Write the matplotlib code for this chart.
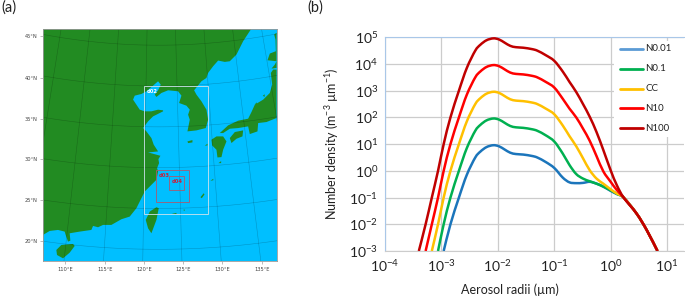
import matplotlib

matplotlib.use("Agg")
import matplotlib.pyplot as plt
import numpy as np
from matplotlib.patches import PathPatch, Polygon, Rectangle
from matplotlib.path import Path

W, H = 685, 298

plt.rcParams["font.family"] = ["Lato", "DejaVu Sans"]
plt.rcParams["mathtext.default"] = "regular"

# map panel, everything in projected map units
mainland = [(130, 705), (150, 693), (175, 690), (195, 695), (198, 705), (205, 725), (212, 722), (210, 700),
            (240, 695), (275, 690), (280, 678), (295, 682), (310, 675), (335, 675), (365, 658), (390, 650),
            (410, 625), (425, 595), (435, 575), (450, 560), (470, 540), (475, 515), (472, 505), (478, 490),
            (476, 478), (482, 468), (460, 462), (445, 458), (475, 455), (462, 435), (455, 415), (440, 395),
            (430, 385), (445, 365), (460, 350), (490, 335), (490, 332), (475, 330), (455, 335), (435, 335),
            (420, 330), (410, 315), (400, 300), (405, 288), (425, 283), (440, 275), (460, 258), (475, 245),
            (483, 255), (475, 272), (465, 285), (470, 292), (485, 280), (505, 272), (535, 275), (545, 288),
            (538, 310), (560, 318), (570, 330), (565, 345), (570, 360), (563, 395), (590, 392), (618, 385),
            (625, 360), (620, 330), (605, 305), (590, 285), (583, 272), (605, 245), (620, 235), (625, 220),
            (640, 200), (655, 183), (675, 187), (690, 185), (710, 165), (730, 125), (755, 87), (130, 87)]
hainan = [(170, 750), (185, 735), (220, 732), (225, 738), (210, 758), (190, 775), (172, 765)]
taiwan = [(438, 660), (450, 635), (470, 622), (477, 625), (470, 660), (455, 700), (445, 685)]
jeju = [(563, 425), (578, 421), (578, 428), (565, 430)]
kyushu = [(635, 420), (650, 410), (670, 410), (680, 425), (670, 450), (665, 472), (653, 473), (650, 450), (637, 437)]
shikoku = [(690, 415), (705, 397), (730, 392), (728, 410), (710, 417), (695, 430)]
honshu = [(660, 400), (685, 377), (715, 363), (745, 357), (755, 337), (765, 315), (790, 300), (810, 280),
          (817, 255), (813, 220), (820, 210), (830, 210), (830, 355), (800, 367), (775, 370), (773, 395),
          (750, 403), (745, 380), (715, 385), (690, 387), (670, 400)]
hokkaido = [(823, 105), (830, 100), (830, 205), (815, 207), (825, 195), (830, 185), (803, 182), (810, 162),
            (828, 155), (827, 120)]
islets = [[(602, 592), (612, 580), (614, 584), (606, 595)], [(632, 543), (640, 537), (641, 541)],
          [(656, 490), (664, 484), (664, 490)], [(615, 438), (623, 432), (623, 437)],
          [(516, 642), (530, 639), (530, 643)], [(550, 630), (556, 629), (554, 633)],
          [(789, 288), (795, 284), (794, 292)], [(765, 314), (771, 308), (771, 316)]]
land_parts = [mainland, hainan, taiwan, jeju, kyushu, shikoku, honshu, hokkaido] + islets

grid_lons = [100, 105, 110, 115, 120, 125, 130, 135, 140, 145]
grid_lats = [15, 20, 25, 30, 35, 40, 45, 50]
lon_ticks = [196, 316, 433, 550, 668, 786]
lon_labels = ["110°E", "115°E", "120°E", "125°E", "130°E", "135°E"]
lat_ticks = [723, 600, 478, 357, 235, 110]
lat_labels = ["20°N", "25°N", "30°N", "35°N", "40°N", "45°N"]

nests = [("d02", 433, 260, 625, 643, "#cfe3ee"),
         ("d03", 470, 510, 567, 607, "#a85a70"),
         ("d04", 508, 528, 552, 571, "#a85a70")]
nest_label_pos = [(441, 276), (478, 526), (516, 545)]
nest_label_col = ["white", "#c8203c", "#c8203c"]

radii = [-3.40, -3.28, -3.17, -3.06, -2.96, -2.84, -2.69, -2.55, -2.40, -2.31, -2.20, -2.08, -1.98, -1.88,
         -1.78, -1.68, -1.55, -1.40, -1.30, -1.15, -1.00, -0.85, -0.73, -0.61, -0.49, -0.37, -0.25, -0.13,
         0.00, 0.11, 0.23, 0.46, 0.64, 0.83]
n100 = [-3.00, -2.00, -1.00, 0.00, 1.00, 2.00, 3.00, 3.85, 4.50, 4.72, 4.89, 4.96, 4.92, 4.80,
        4.68, 4.63, 4.61, 4.56, 4.50, 4.33, 4.12, 3.72, 3.33, 2.95, 2.50, 2.02, 1.45, 0.78,
        0.02, -0.54, -1.00, -1.60, -2.22, -3.00]
n10 = [None, -3.00, -2.00, -1.00, 0.00, 1.00, 2.00, 2.85, 3.50, 3.72, 3.89, 3.96, 3.92, 3.80,
       3.68, 3.63, 3.61, 3.56, 3.50, 3.33, 3.12, 2.70, 2.33, 2.00, 1.58, 1.12, 0.55, -0.02,
       -0.41, -0.72, -1.00, -1.60, -2.22, -3.00]
cc = [None, None, -3.00, -2.00, -1.00, 0.00, 1.00, 1.85, 2.50, 2.72, 2.89, 2.96, 2.92, 2.80,
      2.68, 2.63, 2.61, 2.56, 2.50, 2.33, 2.12, 1.70, 1.30, 0.92, 0.47, 0.02, -0.29, -0.48,
      -0.69, -0.85, -1.00, -1.60, -2.22, -3.00]
n01 = [None, None, None, -3.00, -2.00, -1.00, 0.00, 0.85, 1.50, 1.72, 1.89, 1.96, 1.92, 1.80,
       1.68, 1.63, 1.61, 1.56, 1.50, 1.33, 1.10, 0.65, 0.22, -0.12, -0.29, -0.39, -0.48, -0.59,
       -0.73, -0.86, -1.00, -1.60, -2.22, -3.00]
n001 = [None, None, None, None, -3.00, -2.00, -1.00, -0.15, 0.50, 0.72, 0.89, 0.96, 0.92, 0.80,
        0.68, 0.63, 0.61, 0.56, 0.50, 0.33, 0.11, -0.25, -0.43, -0.46, -0.45, -0.41, -0.48, -0.59,
        -0.75, -0.87, -1.00, -1.60, -2.22, -3.00]
names = ["N0.01", "N0.1", "CC", "N10", "N100"]
curves = [n001, n01, cc, n10, n100]
curve_colors = ["#1b75bb", "#00b050", "#ffc000", "#ff0000", "#c00000"]
legend_colors = ["#5b9bd5", "#00b050", "#ffc000", "#ff0000", "#c00000"]
x_exps = [-4, -3, -2, -1, 0, 1]
y_exps = [-3, -2, -1, 0, 1, 2, 3, 4, 5]


def project(lon, lat):
    # conic fit to the graticule of the original map
    r = 2481 - (np.asarray(lat) - 20) * 24.44
    theta = (np.asarray(lon) - 122) * 0.00934
    return 476 + r * np.sin(theta), -1733 + r * np.cos(theta)


def px_axes(fig, x0, y0, x1, y1):
    return fig.add_axes([x0 / W, 1 - y1 / H, (x1 - x0) / W, (y1 - y0) / H])


def smooth_path(xs, ys):
    # Excel style smoothed line: bezier segments through the read points, in log space
    pts = np.column_stack([xs, ys])
    verts = [pts[0]]
    codes = [Path.MOVETO]
    for i in range(len(pts) - 1):
        before = pts[max(i - 1, 0)]
        after = pts[min(i + 2, len(pts) - 1)]
        verts += [pts[i] + (pts[i + 1] - before) / 6, pts[i + 1] - (after - pts[i]) / 6, pts[i + 1]]
        codes += [Path.CURVE4] * 3
    return Path(10.0 ** np.array(verts), codes)


def draw_map(ax):
    ax.set_facecolor("#00bfff")
    for part in land_parts:
        ax.add_patch(Polygon(part, closed=True, fc="#228b22", ec="none", zorder=1))

    for lon in grid_lons:
        x, y = project(np.full(50, lon), np.linspace(10, 55, 50))
        ax.plot(x, y, color="black", lw=0.4, alpha=0.22, zorder=2)
    for lat in grid_lats:
        x, y = project(np.linspace(95, 150, 80), np.full(80, lat))
        ax.plot(x, y, color="black", lw=0.4, alpha=0.22, zorder=2)

    for (name, x0, y0, x1, y1, col), pos, tcol in zip(nests, nest_label_pos, nest_label_col):
        ax.add_patch(Rectangle((x0, y0), x1 - x0, y1 - y0, fc="none", ec=col, lw=0.6, zorder=3))
        ax.text(pos[0], pos[1], name, color=tcol, fontsize=3.8, fontweight="bold", va="center", zorder=4,
                family="DejaVu Sans")

    ax.set_xlim(130, 830)
    ax.set_ylim(783, 87)
    ax.set_xticks(lon_ticks, lon_labels)
    ax.set_yticks(lat_ticks, lat_labels)
    ax.tick_params(labelsize=3.7, length=2.5, width=0.4, color="#888888", labelcolor="#444444", pad=1.5)
    for label in ax.get_xticklabels() + ax.get_yticklabels():
        label.set_family("DejaVu Sans")
    for spine in ax.spines.values():
        spine.set_color("#999999")
        spine.set_linewidth(0.6)


def draw_curves(ax):
    ax.set_xscale("log")
    ax.set_yscale("log")
    ax.set_xlim(1e-4, 10**1.3)
    ax.set_ylim(1e-3, 1e5)

    for values, col in zip(curves, curve_colors):
        keep = [(r, v) for r, v in zip(radii, values) if v is not None]
        path = smooth_path([k[0] for k in keep], [k[1] for k in keep])
        ax.add_patch(PathPatch(path, fc="none", ec=col, lw=1.8, capstyle="butt", zorder=3))

    ax.set_xticks([10.0**e for e in x_exps], [f"$10^{{{e}}}$" for e in x_exps])
    ax.set_yticks([10.0**e for e in y_exps], [f"$10^{{{e}}}$" for e in y_exps])
    ax.minorticks_off()
    ax.grid(True, color="#cccccc", lw=0.9, zorder=0)
    ax.set_axisbelow(True)
    ax.tick_params(length=0, labelsize=10, pad=5, labelcolor="#222222")
    ax.spines["right"].set_visible(False)
    ax.spines["bottom"].set_color("#cccccc")
    ax.spines["top"].set_color("#a9c7e8")
    ax.spines["left"].set_color("#a9c7e8")
    ax.set_ylabel("Number density (m$^{-3}$ µm$^{-1}$)", fontsize=9, labelpad=6, color="#222222")


def draw_legend(fig):
    ax = px_axes(fig, 614, 41, 685, 137)
    ax.set_xlim(0, 71)
    ax.set_ylim(4.44, -0.4)
    ax.axis("off")
    ax.add_patch(Rectangle((0, -0.4), 71, 4.84, fc="white", ec="none"))
    for i, (name, col) in enumerate(zip(names, legend_colors)):
        ax.plot([6, 29], [i, i], color=col, lw=2.0, solid_capstyle="round")
        ax.text(31, i, name, fontsize=7, va="center", color="#222222")


def main():
    fig = plt.figure(figsize=(W / 100, H / 100), dpi=100)

    draw_map(px_axes(fig, 43, 28.5, 276.5, 261))
    draw_curves(px_axes(fig, 385, 37.3, 684, 251))
    draw_legend(fig)

    fig.text(1 / W, 1 - 8 / H, "(a)", fontsize=10.5, va="center", color="#222222")
    fig.text(307 / W, 1 - 8 / H, "(b)", fontsize=10.5, va="center", color="#222222")
    fig.text(510 / W, 1 - 290 / H, "Aerosol radii (µm)", fontsize=9, ha="center", va="center", color="#222222")

    fig.savefig("out.png", dpi=100)
    plt.close(fig)


if __name__ == "__main__":
    main()
